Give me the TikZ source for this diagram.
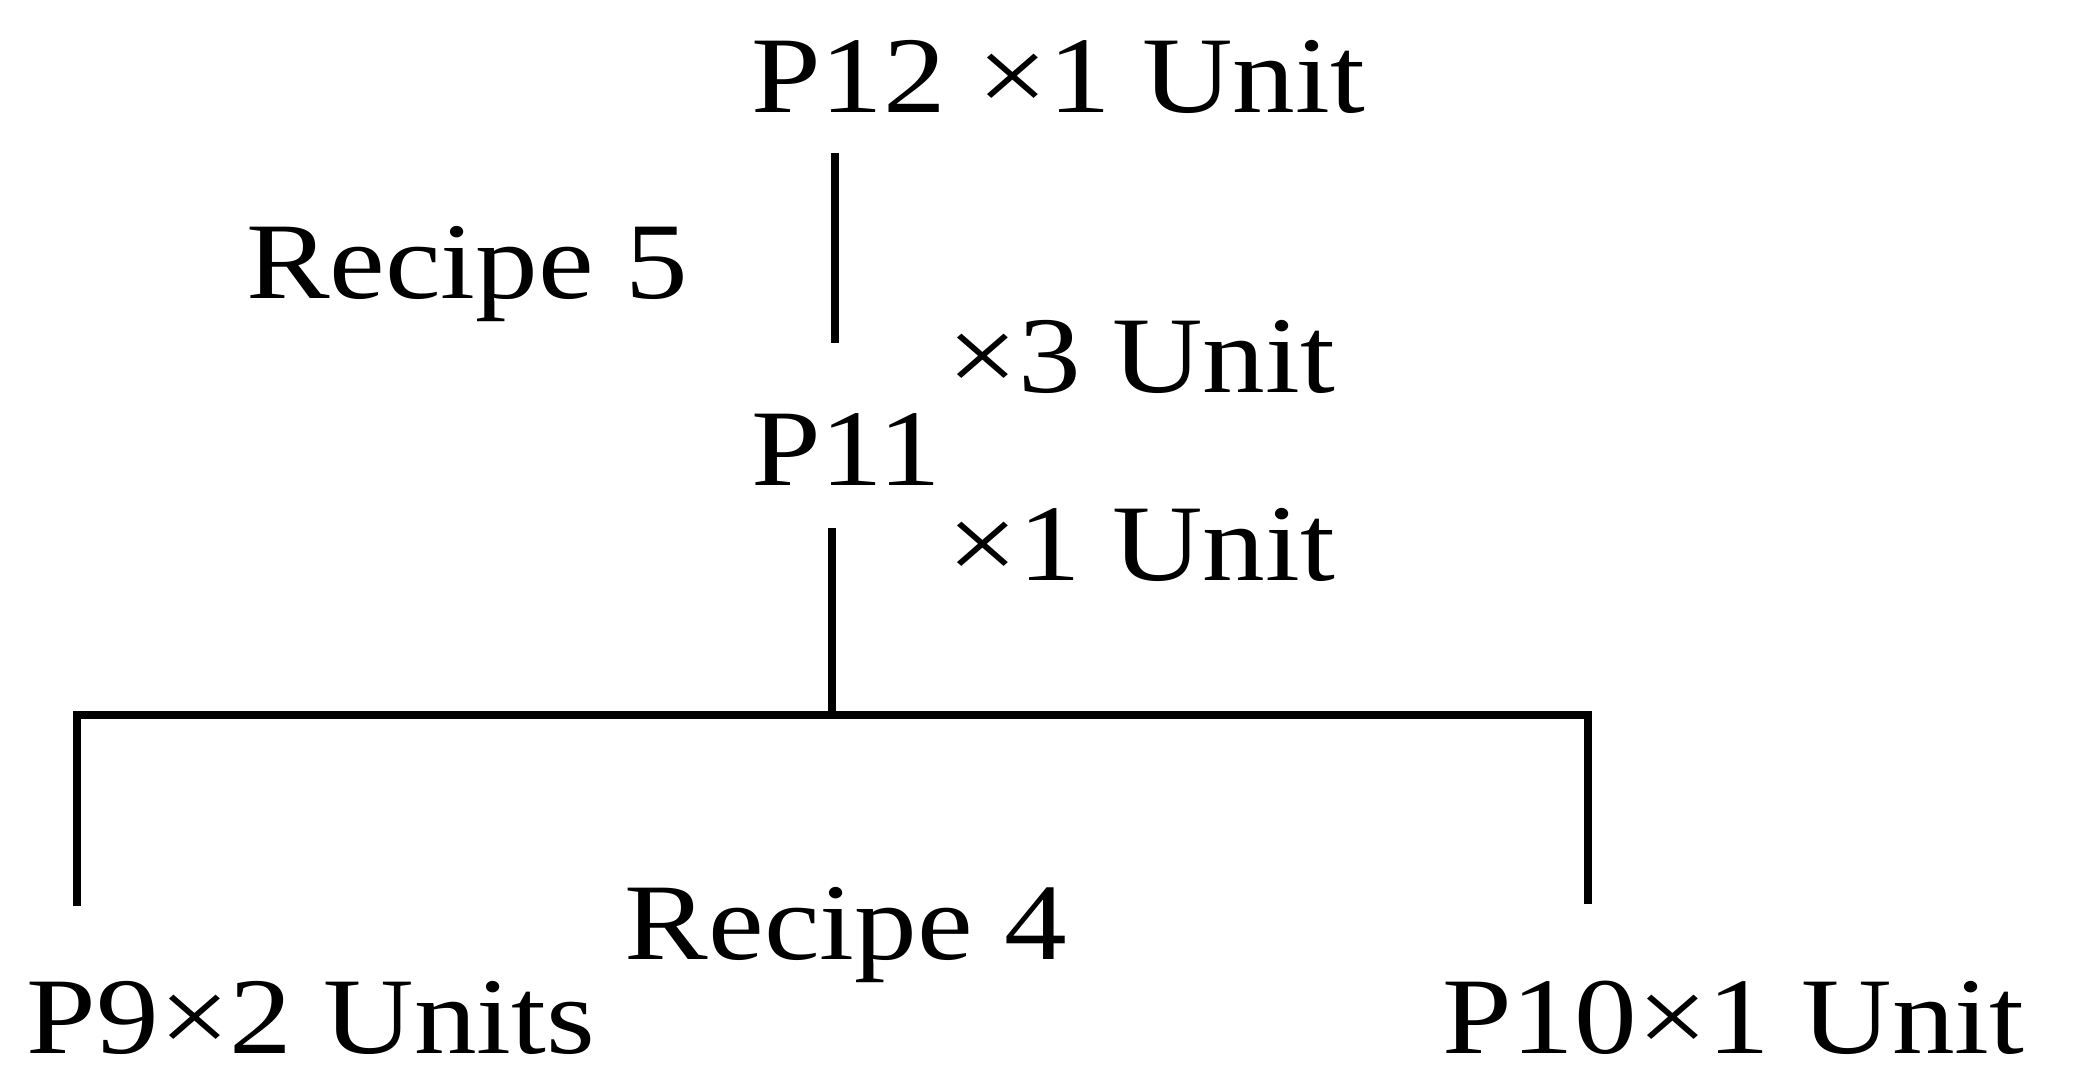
\documentclass[tikz,border=0pt]{standalone}
\usepackage{fontspec}
\setmainfont[FakeStretch=1.15]{Liberation Serif}
\begin{document}
\begin{tikzpicture}[x=1pt,y=-1pt,
  lbl/.style={anchor=base west,inner sep=0pt,font=\fontsize{82}{90}\selectfont},
  ln/.style={line width=6pt}]
\useasboundingbox (0,0) rectangle (1560,818);
\node[lbl] (p12) at (565,85) {P12 ×1 Unit};
\node[lbl] (r5) at (185,225) {Recipe 5};
\node[lbl] (m3) at (713,295) {×3 Unit};
\node[lbl] (p11) at (565,365) {P11};
\node[lbl] (m1) at (713,437) {×1 Unit};
\node[lbl] (r4) at (470,722) {Recipe 4};
\node[lbl] (p9) at (20,793) {P9×2 Units};
\node[lbl] (p10) at (1085,793) {P10×1 Unit};
\coordinate (a1) at (628,115); \coordinate (a2) at (628,258);
\coordinate (b1) at (626,397); \coordinate (b2) at (626,538);
\coordinate (l1) at (58,538); \coordinate (l2) at (58,682);
\coordinate (q1) at (1195,538); \coordinate (q2) at (1195,680);
\draw[ln] (a1) -- (a2);
\draw[ln] (b1) -- (b2);
\draw[ln] (l2) -- (l1) -- (q1) -- (q2);
\end{tikzpicture}
\end{document}
